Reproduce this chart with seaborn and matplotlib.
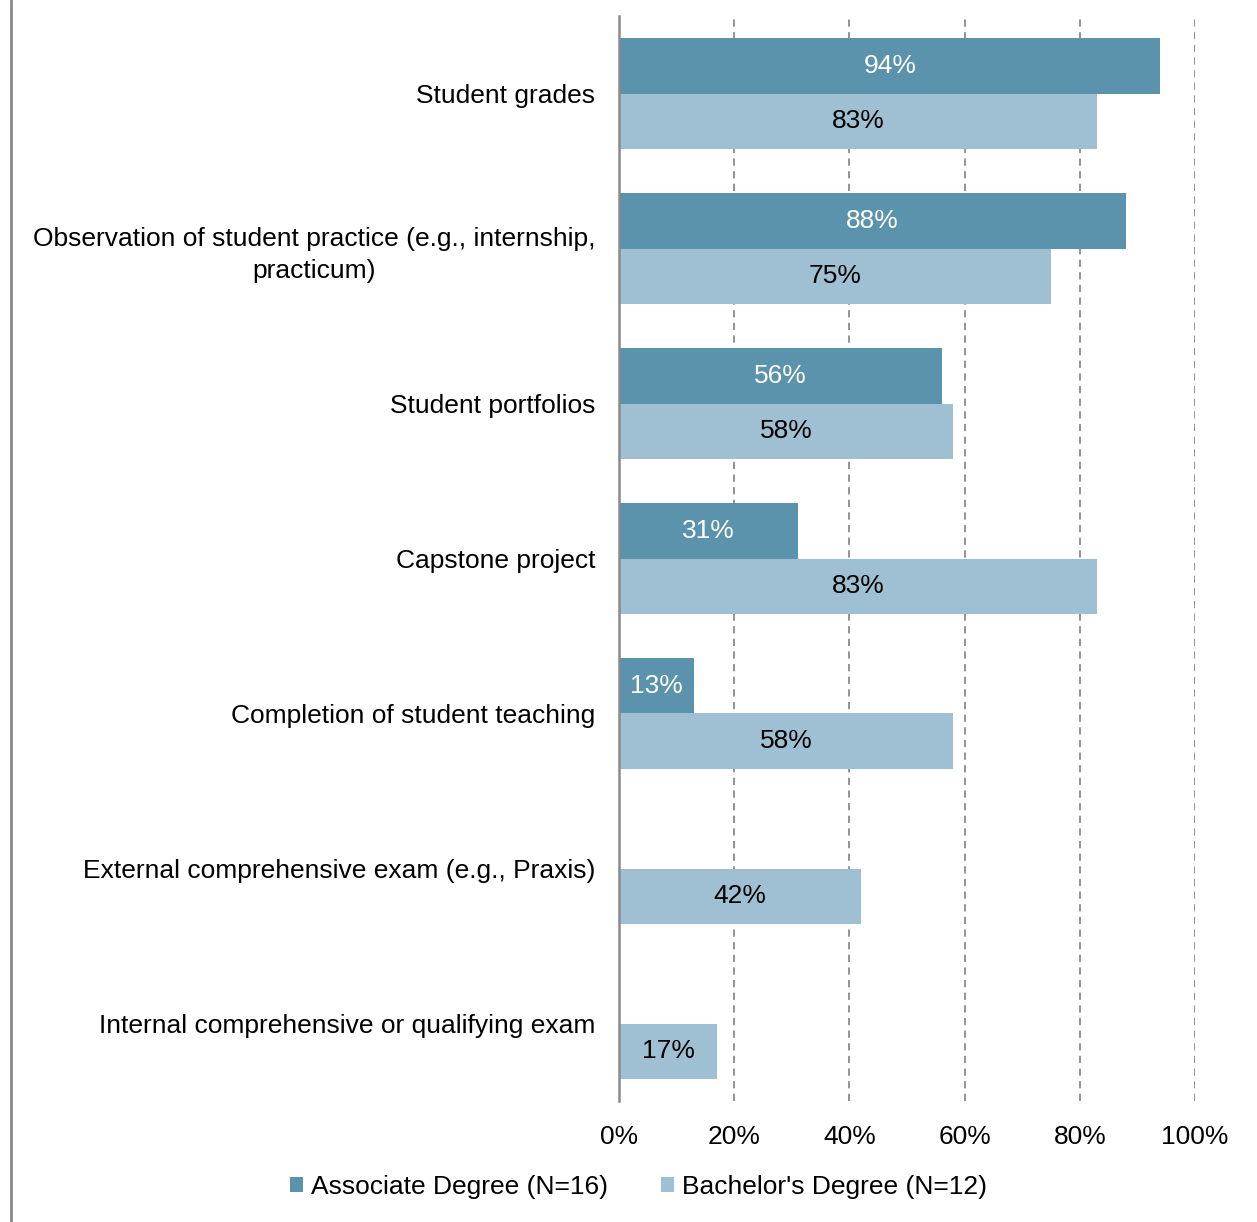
import numpy as np
import pandas as pd
import matplotlib
matplotlib.use("Agg")
import matplotlib.pyplot as plt
from matplotlib.lines import Line2D
from matplotlib.patches import Patch
import seaborn as sns

categories = [
    "Student grades",
    "Observation of student practice (e.g., internship,\npracticum)",
    "Student portfolios",
    "Capstone project",
    "Completion of student teaching",
    "External comprehensive exam (e.g., Praxis)",
    "Internal comprehensive or qualifying exam",
]
associate = [94, 88, 56, 31, 13, np.nan, np.nan]
bachelor = [83, 75, 58, 83, 58, 42, 17]
series_names = ["Associate Degree (N=16)", "Bachelor's Degree (N=12)"]
series_colors = ["#5B93AC", "#9FBFD3"]
label_colors = ["white", "black"]
x_ticks = [0, 20, 40, 60, 80, 100]
x_tick_labels = ["0%", "20%", "40%", "60%", "80%", "100%"]

df = pd.DataFrame({
    "category": categories * 2,
    "value": associate + bachelor,
    "series": [series_names[0]] * len(categories) + [series_names[1]] * len(categories),
})

sns.set_theme(style="white")
plt.rcParams["font.family"] = ["Liberation Sans", "DejaVu Sans"]
FS = 19

fig = plt.figure(figsize=(12.57, 12.22), dpi=100)
ax = fig.add_axes([619 / 1257, 1 - 1101 / 1222, (1195 - 619) / 1257, (1101 - 16) / 1222])

sns.barplot(
    data=df, y="category", x="value", hue="series",
    order=categories, hue_order=series_names,
    palette=series_colors, orient="h", width=0.72,
    saturation=1, linewidth=0, legend=False, ax=ax,
)

for container, color in zip(ax.containers, label_colors):
    ax.bar_label(container, fmt="%.0f%%", label_type="center",
                 color=color, fontsize=FS)

ax.set_xlim(0, 100)
ax.set_ylim(6.5, -0.5)
ax.set_xticks(x_ticks)
ax.set_xticklabels(x_tick_labels, fontsize=FS, color="black")
ax.tick_params(axis="x", length=0, pad=17)
ax.tick_params(axis="y", length=0, pad=17)
for lbl in ax.get_yticklabels():
    lbl.set_fontsize(FS)
    lbl.set_color("black")
    lbl.set_multialignment("center")
    lbl.set_linespacing(1.4)
ax.set_xlabel("")
ax.set_ylabel("")

for x in x_ticks[1:]:
    ax.axvline(x, color="#8a8a8a", linestyle=(0, (4, 3)), linewidth=1.3, zorder=0)

for side in ["top", "right", "bottom"]:
    ax.spines[side].set_visible(False)
ax.spines["left"].set_color("#8a8a8a")
ax.spines["left"].set_linewidth(1.8)

handles = [Patch(facecolor=c, edgecolor="none") for c in series_colors]
fig.legend(handles, series_names, loc="center", bbox_to_anchor=(0.508, 1 - 1187 / 1222),
           ncol=2, frameon=False, fontsize=FS, labelcolor="black",
           handlelength=0.5, handleheight=0.5, handletextpad=0.3, columnspacing=2.0)

fig.add_artist(Line2D([10.5 / 1257, 10.5 / 1257], [0, 1], color="#8a8a8a",
                      linewidth=2, transform=fig.transFigure))

fig.savefig("out.png", dpi=100)
